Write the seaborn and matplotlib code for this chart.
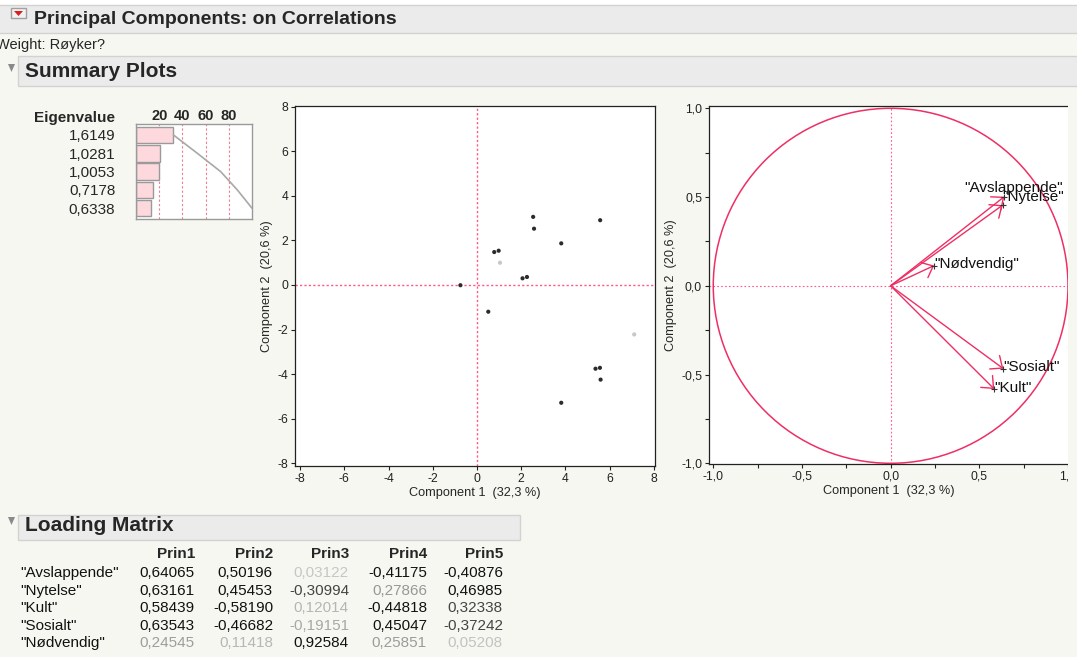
import numpy as np
import pandas as pd
import seaborn as sns
import matplotlib.pyplot as plt
from matplotlib.ticker import FuncFormatter, MultipleLocator
from matplotlib.patches import Rectangle, Polygon, Circle

# Loading matrix (from JMP report)
variables = ["Avslappende", "Nytelse", "Kult", "Sosialt", "Nødvendig"]
prin1 = [0.64065, 0.63161, 0.58439, 0.63543, 0.24545]
prin2 = [0.50196, 0.45453, -0.58190, -0.46682, 0.11418]
prin3 = [0.03122, -0.30994, 0.12014, -0.19151, 0.92584]
prin4 = [-0.41175, 0.27866, -0.44818, 0.45047, 0.25851]
prin5 = [-0.40876, 0.46985, 0.32338, -0.37242, 0.05208]
prin_names = ["Prin1", "Prin2", "Prin3", "Prin4", "Prin5"]

eigenvalues = [1.6149, 1.0281, 1.0053, 0.7178, 0.6338]

# Score plot
score1 = [2.54, 5.57, 2.58, 3.81, 0.78, 0.98, 1.04, 2.06, 2.26, -0.75, 0.51, 7.11, 5.36, 5.56, 5.59, 3.81]
score2 = [3.06, 2.91, 2.53, 1.87, 1.48, 1.54, 1.00, 0.30, 0.36, -0.01, -1.20, -2.22, -3.76, -3.72, -4.25, -5.29]
score_state = ["inc", "inc", "inc", "inc", "inc", "inc", "exc", "inc", "inc", "inc", "inc", "exc",
               "inc", "inc", "inc", "inc"]

W, H = 1077, 657
BG = "#f7f7f2"
PINK = "#ee2f64"
REF = "#ff5a85"

sns.set_style("white")
plt.rcParams["font.family"] = ["Liberation Sans", "DejaVu Sans"]

fig = plt.figure(figsize=(W / 100, H / 100), dpi=100)
fig.patch.set_facecolor(BG)


def fx(px):
    return px / W


def fy(py):
    return 1 - py / H


def axes_px(left, top, right, bottom):
    return fig.add_axes([left / W, 1 - bottom / H, (right - left) / W, (bottom - top) / H])


def band(x0, y0, x1, y1, fc="#ebebeb", ec="#d2d2d2", z=0):
    fig.add_artist(Rectangle((fx(x0), fy(y1)), (x1 - x0) / W, (y1 - y0) / H,
                             transform=fig.transFigure, facecolor=fc, edgecolor=ec, lw=1,
                             zorder=z))


def comma(v, dec):
    return f"{v:.{dec}f}".replace(".", ",")


# page chrome
band(-2, -2, W + 2, 5, fc="white", ec="none")
band(-2, 5, W + 2, 33)
band(18, 56, W + 2, 86)
band(18, 515, 520, 540)

# red disclosure icon
band(11, 8, 26, 18, fc="#f2f2f2", ec="#a0a0a0")
fig.add_artist(Polygon([(fx(14), fy(11)), (fx(23), fy(11)), (fx(18.5), fy(16))],
                       transform=fig.transFigure, facecolor="#d81e1e", edgecolor="none"))
for ty in (64, 517):
    fig.add_artist(Polygon([(fx(8), fy(ty)), (fx(15), fy(ty)), (fx(11.5), fy(ty + 8))],
                           transform=fig.transFigure, facecolor="#8a8a8a", edgecolor="none"))

fig.text(fx(34), fy(24), "Principal Components: on Correlations", fontsize=14,
         fontweight="bold", va="baseline")
fig.text(fx(-4), fy(45), "Weight: Røyker?", fontsize=10.5, va="center")
fig.text(fx(25), fy(77), "Summary Plots", fontsize=15, fontweight="bold", va="baseline")
fig.text(fx(25), fy(531), "Loading Matrix", fontsize=15, fontweight="bold", va="baseline")

# ---------- eigenvalue bar chart ----------
pct = [e / sum(eigenvalues) * 100 for e in eigenvalues]
cum = np.cumsum(pct)
eig_df = pd.DataFrame({"row": range(len(pct)), "pct": pct})

ax_e = axes_px(136, 124, 252, 219)
ax_e.set_facecolor("white")
for v in [20, 40, 60, 80]:
    ax_e.axvline(v, color="#f27b90", ls=(0, (2, 2)), lw=0.8, zorder=0)
sns.barplot(data=eig_df, x="pct", y="row", orient="h", color="#fdd9dd", saturation=1,
            edgecolor="#9a9a9a", linewidth=1, width=0.9, ax=ax_e, zorder=2)
ax_e.plot(cum, range(len(cum)), color="#a8a8a8", lw=1.2, zorder=3)
ax_e.set_xlim(0, 100)
ax_e.set_ylim(4.59, -0.6)
ax_e.xaxis.tick_top()
ax_e.set_xticks([20, 40, 60, 80])
ax_e.set_xticklabels(["20", "40", "60", "80"], fontweight="bold", fontsize=10.5)
ax_e.set_yticks(range(len(eigenvalues)))
ax_e.set_yticklabels([comma(e, 4) for e in eigenvalues], fontsize=11)
ax_e.tick_params(axis="x", length=0, pad=1)
ax_e.tick_params(axis="y", length=0, pad=14.8)
ax_e.set_xlabel("")
ax_e.set_ylabel("")
for s in ax_e.spines.values():
    s.set_color("#9a9a9a")
    s.set_linewidth(1)
fig.text(fx(115), fy(122), "Eigenvalue", fontsize=11, fontweight="bold", ha="right", va="baseline")


def style_axes(ax):
    ax.set_facecolor("white")
    for s in ax.spines.values():
        s.set_color("#222222")
        s.set_linewidth(0.9)
    ax.tick_params(which="both", direction="out", length=3, width=0.8, color="#222222",
                   labelsize=8.7, pad=2, left=True, bottom=True, labelcolor="#222222")


# ---------- score plot ----------
ax_s = axes_px(295, 106, 655, 466)
style_axes(ax_s)
ax_s.axhline(0, color=REF, ls=(0, (1.6, 1.6)), lw=1.0, zorder=1)
ax_s.axvline(0, color=REF, ls=(0, (1.6, 1.6)), lw=1.0, zorder=1)
sns.scatterplot(x=score1, y=score2, hue=score_state,
                palette={"inc": "#2b2b2b", "exc": "#c8c8c8"},
                s=9, linewidth=0, legend=False, ax=ax_s, zorder=3)
ax_s.set_xlim(-8.23, 8.05)
ax_s.set_ylim(-8.13, 8.04)
ax_s.xaxis.set_major_locator(MultipleLocator(2))
ax_s.yaxis.set_major_locator(MultipleLocator(2))
ax_s.xaxis.set_major_formatter(FuncFormatter(lambda v, p: f"{v:.0f}"))
ax_s.yaxis.set_major_formatter(FuncFormatter(lambda v, p: f"{v:.0f}"))
ax_s.set_xlabel("Component 1  (32,3 %)", fontsize=9.2, labelpad=1.5)
ax_s.set_ylabel("Component 2  (20,6 %)", fontsize=9.2, labelpad=3)

# ---------- loading plot ----------
ax_b = axes_px(709, 106, 1068, 464)
style_axes(ax_b)
ax_b.spines["right"].set_visible(False)
ax_b.axhline(0, color=REF, ls=(0, (1.5, 2)), lw=0.8, zorder=1)
ax_b.axvline(0, color=REF, ls=(0, (1.5, 2)), lw=0.8, zorder=1)
ax_b.add_patch(Circle((0, 0), 1, fill=False, edgecolor=PINK, lw=1.1, zorder=2))
for v, a, b in zip(variables, prin1, prin2):
    ax_b.annotate("", xy=(a, b), xytext=(0, 0),
                  arrowprops=dict(arrowstyle="->,head_length=0.7,head_width=0.6",
                                  color=PINK, lw=1.0, shrinkA=0, shrinkB=0), zorder=3)
sns.scatterplot(x=prin1, y=prin2, marker="+", color="#333333", s=14, linewidth=0.8,
                legend=False, ax=ax_b, zorder=4)
label_offsets = {"Avslappende": (7, 6.5, "center"), "Nytelse": (0, 6, "left")}
for v, a, b in zip(variables, prin1, prin2):
    dx, dy, ha = label_offsets.get(v, (0, 1, "left"))
    ax_b.annotate(f'"{v}"', xy=(a, b), xytext=(dx, dy), textcoords="offset points",
                  ha=ha, va="center", fontsize=11, color="#111111", zorder=5)
ax_b.set_xlim(-1.024, 1.0)
ax_b.set_ylim(-1.004, 1.013)
ax_b.xaxis.set_major_locator(MultipleLocator(0.5))
ax_b.yaxis.set_major_locator(MultipleLocator(0.5))
ax_b.xaxis.set_minor_locator(MultipleLocator(0.25))
ax_b.yaxis.set_minor_locator(MultipleLocator(0.25))
ax_b.xaxis.set_major_formatter(FuncFormatter(lambda v, p: comma(v, 1)))
ax_b.yaxis.set_major_formatter(FuncFormatter(lambda v, p: comma(v, 1)))
ax_b.set_xlabel("Component 1  (32,3 %)", fontsize=9.2, labelpad=1.5)
ax_b.set_ylabel("Component 2  (20,6 %)", fontsize=9.2, labelpad=3)

# screenshot crop on the right edge of the loading plot
band(1068, 95, W + 5, 505, fc=BG, ec="none", z=10)

# ---------- loading matrix table ----------
loadings = [prin1, prin2, prin3, prin4, prin5]
col_right = [195, 273, 349, 427, 503]
row_y = [573, 591, 608, 626, 643]


def value_color(v):
    a = abs(v)
    if a >= 0.4:
        return "#111111"
    if a >= 0.3:
        return "#444444"
    g = 0.80 - 0.75 * a
    return (g, g, g)


for name, xr in zip(prin_names, col_right):
    fig.text(fx(xr), fy(554), name, fontsize=11, fontweight="bold", ha="right", va="center")
for i, (v, y) in enumerate(zip(variables, row_y)):
    fig.text(fx(20), fy(y), f'"{v}"', fontsize=11, ha="left", va="center", color="#111111")
    for col, xr in zip(loadings, col_right):
        fig.text(fx(xr), fy(y), comma(col[i], 5), fontsize=11, ha="right", va="center",
                 color=value_color(col[i]))

fig.savefig("out.png", dpi=100, facecolor=fig.get_facecolor())
